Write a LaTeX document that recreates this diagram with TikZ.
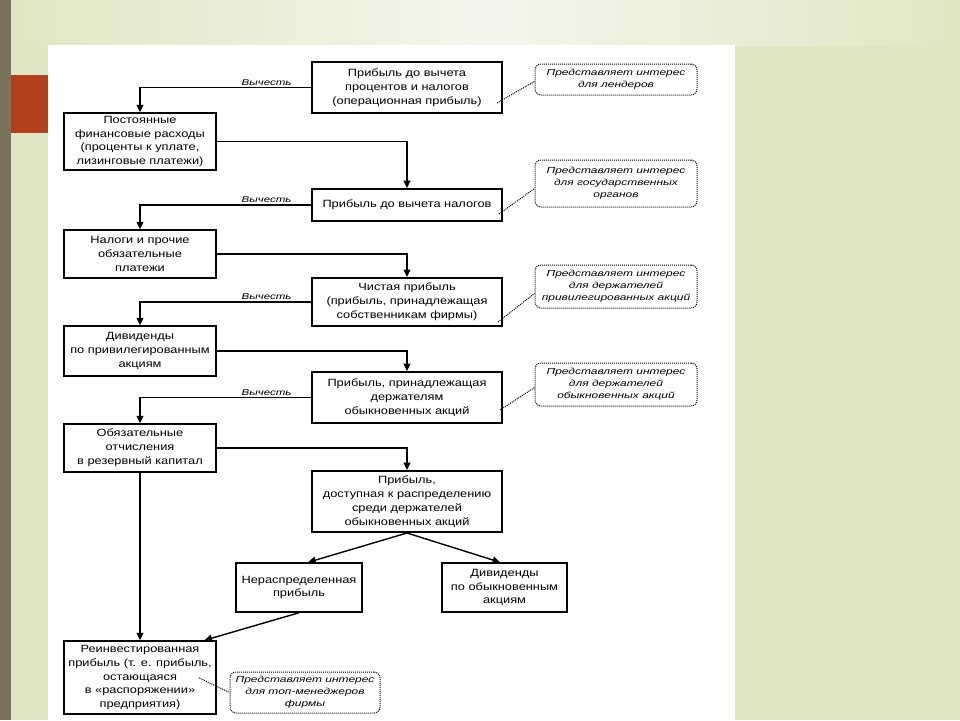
\documentclass[tikz,border=0pt]{standalone}
\usepackage{fontspec}
\setmainfont{Liberation Sans}[FakeStretch=1.22]
\newfontfamily\notefont{Liberation Sans}[FakeStretch=1.36]
\usetikzlibrary{arrows.meta, positioning, calc}

\definecolor{slidegreen}{HTML}{E0E6C4}
\definecolor{slidelight}{HTML}{F4F6EC}
\definecolor{stripe}{HTML}{7A745C}
\definecolor{brick}{HTML}{B2401E}

\begin{document}
\begin{tikzpicture}[x=1pt, y=-1pt, >={Triangle[length=7.5pt,width=7pt]},
    mainbox/.style={draw, line width=2pt, align=center, inner sep=2pt,
        font=\fontsize{10.5}{13.8}\selectfont, minimum width=190pt},
    sidebox/.style={draw, line width=1.5pt, align=center, inner sep=2pt,
        font=\fontsize{10.5}{13.8}\selectfont, minimum width=152pt},
    notebox/.style={draw, densely dotted, line width=1pt, rounded corners=6pt,
        align=center, inner sep=2pt, minimum width=162pt,
        font=\notefont\itshape\fontsize{8.8}{12}\selectfont},
    flow/.style={->, line width=1.4pt},
    hint/.style={densely dotted, line width=1pt},
    subtract/.style={above, inner sep=1.5pt,
        font=\notefont\itshape\fontsize{8.5}{10}\selectfont}]
        \useasboundingbox (0,0) rectangle (960,720);
        % Slide background
        \fill[slidegreen] (0,0) rectangle (960,720);
        \shade[left color=slidegreen, right color=slidegreen, middle color=slidelight]
            (11,0) rectangle (960,45);
        \fill[stripe] (0,0) rectangle (11,720);
        \fill[brick] (11,75) rectangle (48,133);
        \fill[white] (48,45) rectangle (735,720);

        % Right column: profit levels
        \node[mainbox, minimum height=51pt] (ebit) at (407,87.5)
            {Прибыль до вычета\\процентов и налогов\\(операционная прибыль)};
        \node[mainbox, minimum height=32pt] (ebt) at (407,205)
            {Прибыль до вычета налогов};
        \node[mainbox, minimum height=48pt] (netprofit) at (407,302)
            {Чистая прибыль\\(прибыль, принадлежащая\\собственникам фирмы)};
        \node[mainbox, minimum height=51pt] (commonprofit) at (407,397.5)
            {Прибыль, принадлежащая\\держателям\\обыкновенных акций};
        \node[mainbox, minimum height=61pt] (distrib) at (407,501.5)
            {Прибыль,\\доступная к распределению\\среди держателей\\обыкновенных акций};

        % Left column: deductions
        \node[sidebox, minimum height=57pt] (fincost) at (140,141.5)
            {Постоянные\\финансовые расходы\\(проценты к уплате,\\лизинговые платежи)};
        \node[sidebox, minimum height=48pt] (taxes) at (140,254)
            {Налоги и прочие\\обязательные\\платежи};
        \node[sidebox, minimum height=50pt] (prefdiv) at (140,351)
            {Дивиденды\\по привилегированным\\акциям};
        \node[sidebox, minimum height=48pt] (reserve) at (140,448)
            {Обязательные\\отчисления\\в резервный капитал};
        \node[sidebox, minimum height=73pt] (reinvest) at (140,677.5)
            {Реинвестированная\\прибыль (т. е. прибыль,\\остающаяся\\в «распоряжении»\\предприятия)};

        % Split of distributable profit
        \node[sidebox, minimum width=126pt, minimum height=49pt] (retained) at (299,587.5)
            {Нераспределенная\\прибыль};
        \node[sidebox, minimum width=125pt, minimum height=49pt] (commondiv) at (504.5,587.5)
            {Дивиденды\\по обыкновенным\\акциям};

        % Callouts
        \node[notebox, minimum height=31pt] (lendnote) at (616,79.5)
            {Представляет интерес\\для лендеров};
        \node[notebox, minimum height=47pt] (govnote) at (616,183.5)
            {Представляет интерес\\для государственных\\органов};
        \node[notebox, minimum height=43pt] (prefnote) at (616,286.5)
            {Представляет интерес\\для держателей\\привилегированных акций};
        \node[notebox, minimum height=43pt] (commonnote) at (616,384.5)
            {Представляет интерес\\для держателей\\обыкновенных акций};
        \node[notebox, minimum width=150pt, minimum height=41pt] (mgmtnote) at (305,692.5)
            {Представляет интерес\\для топ-менеджеров\\фирмы};

        % Flow arrows
        \draw[flow] (ebit.west) -| node[subtract, pos=0.13] {Вычесть} (fincost.north);
        \draw[flow] (fincost.east) -| (ebt.north);
        \draw[flow] (ebt.west) -| node[subtract, pos=0.13] {Вычесть} (taxes.north);
        \draw[flow] (taxes.east) -| (netprofit.north);
        \draw[flow] (netprofit.west) -| node[subtract, pos=0.13] {Вычесть} (prefdiv.north);
        \draw[flow] (prefdiv.east) -| (commonprofit.north);
        \draw[flow] (commonprofit.west) -| node[subtract, pos=0.13] {Вычесть} (reserve.north);
        \draw[flow] (reserve.east) -| (distrib.north);
        \draw[flow] (distrib.south) -- (retained.70);
        \draw[flow] (distrib.south) -- (commondiv.100);
        \draw[flow] (retained.south) -- (reinvest.30);
        \draw[flow] (reserve.south) -- (reinvest.north);

        % Callout pointers
        \draw[hint] ([xshift=-6pt,yshift=11pt]ebit.south east) -- ([yshift=-2pt]lendnote.west);
        \draw[hint] ([xshift=-4pt,yshift=8pt]ebt.south east) -- ([yshift=-5pt]govnote.west);
        \draw[hint] ([xshift=-5pt,yshift=5pt]netprofit.south east) -- ([yshift=-7pt]prefnote.west);
        \draw[hint] ([xshift=-3pt,yshift=14pt]commonprofit.south east) -- ([yshift=-3pt]commonnote.west);
        \draw[hint] ([xshift=-18pt,yshift=37pt]reinvest.south east) -- (mgmtnote.west);
    \end{tikzpicture}
\end{document}
